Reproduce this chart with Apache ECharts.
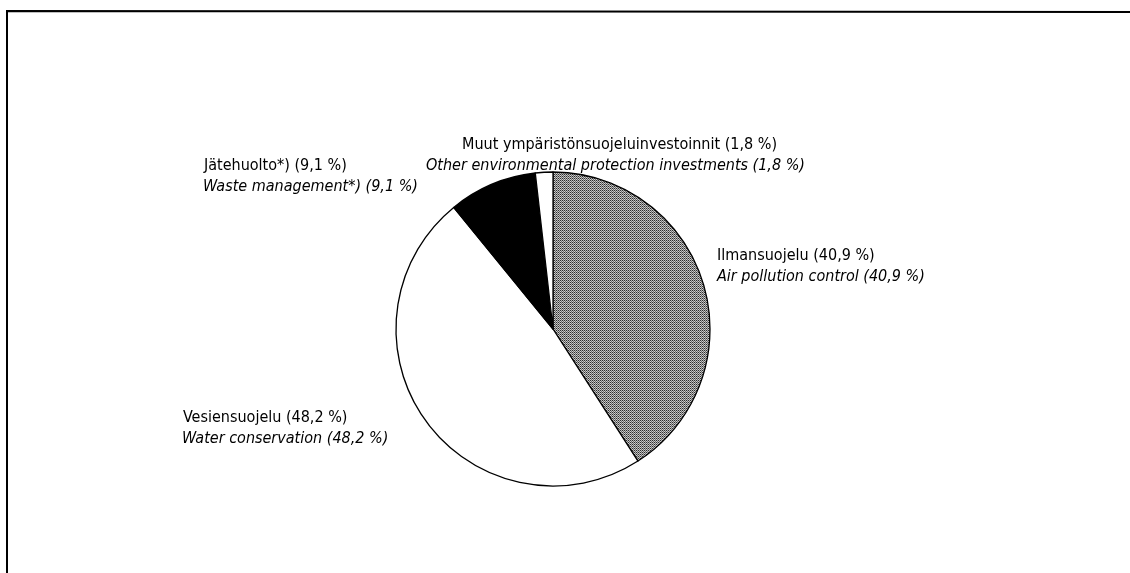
<!DOCTYPE html>
<html>
<head>
<meta charset="utf-8">
<script src="https://cdn.jsdelivr.net/npm/echarts@6/dist/echarts.min.js"></script>
<style>
  html, body { margin: 0; padding: 0; background: #fff; }
  #chart { width: 1130px; height: 573px; }
</style>
</head>
<body>
<div id="chart"></div>
<script>
// clockwise from 12 o'clock
const namesFi = ['Ilmansuojelu', 'Vesiensuojelu', 'Jätehuolto*)', 'Muut ympäristönsuojeluinvestoinnit']
const namesEn = ['Air pollution control', 'Water conservation', 'Waste management*)', 'Other environmental protection investments']
const shares = [40.9, 48.2, 9.1, 1.8]

// label anchor (left x, first line y / second line x, y)
const labelPos = [
  [717, 255, 717, 276],
  [183, 417, 182, 438],
  [204, 165, 203, 186],
  [462, 144, 426, 165]
]

function dotPattern() {
  const c = document.createElement('canvas')
  c.width = 4
  c.height = 4
  const ctx = c.getContext('2d')
  const cols = ['#2e2e2e', '#b4b4b4', '#6a6a6a', '#d0d0d0']
  for (let y = 0; y < 4; y++) {
    for (let x = 0; x < 4; x++) {
      ctx.fillStyle = (x + y) % 2 ? cols[(x + 2 * y) % 2 ? 1 : 3] : cols[(x * y) % 2 ? 2 : 0]
      ctx.fillRect(x, y, 1, 1)
    }
  }
  return c
}

const fills = [
  { image: dotPattern(), repeat: 'repeat' },
  '#ffffff',
  '#000000',
  '#ffffff'
]

const fmt = v => String(v).replace('.', ',') + ' %'
const font = '16px "Liberation Sans Narrow", "DejaVu Sans Condensed", sans-serif'

const labelTexts = []
shares.forEach((v, i) => {
  const p = labelPos[i]
  labelTexts.push({
    type: 'text', left: p[0], top: p[1] - 7,
    style: { text: namesFi[i] + ' (' + fmt(v) + ')', fill: '#000', font: font }
  })
  labelTexts.push({
    type: 'text', left: p[2], top: p[3] - 7,
    style: { text: namesEn[i] + ' (' + fmt(v) + ')', fill: '#000', font: 'italic ' + font }
  })
})

const myChart = echarts.init(document.getElementById('chart'), null, { renderer: 'canvas' })
myChart.setOption({
  animation: false,
  backgroundColor: '#fff',
  graphic: [
    {
      type: 'polyline',
      shape: { points: [[7, 580], [7, 11], [1135, 12]] },
      style: { stroke: '#000', lineWidth: 2, fill: null }
    }
  ].concat(labelTexts),
  series: [
    {
      type: 'pie',
      center: [553, 329],
      radius: 157,
      startAngle: 90,
      clockwise: true,
      label: { show: false },
      labelLine: { show: false },
      emphasis: { disabled: true },
      itemStyle: { borderColor: '#000', borderWidth: 1.3 },
      data: shares.map((v, i) => ({
        name: namesFi[i],
        value: v,
        itemStyle: { color: fills[i] }
      }))
    }
  ]
})
</script>
</body>
</html>
